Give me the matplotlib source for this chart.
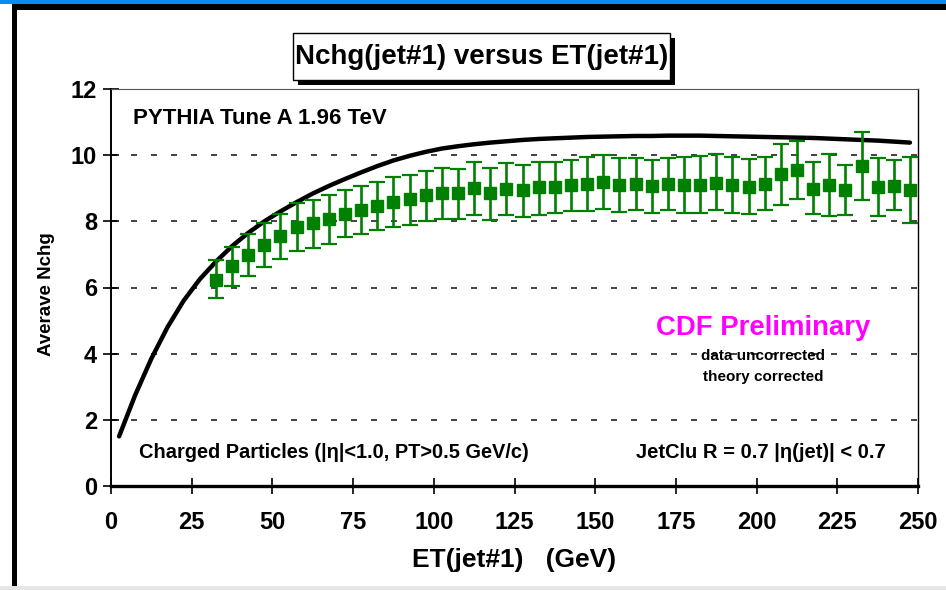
import matplotlib
matplotlib.use("Agg")
import matplotlib.pyplot as plt
from matplotlib.patches import Rectangle
import numpy as np

# ---------------- data ----------------
et = [32.5, 37.5, 42.5, 47.5, 52.5, 57.5, 62.5, 67.5, 72.5, 77.5, 82.5, 87.5,
      92.5, 97.5, 102.5, 107.5, 112.5, 117.5, 122.5, 127.5, 132.5, 137.5, 142.5,
      147.5, 152.5, 157.5, 162.5, 167.5, 172.5, 177.5, 182.5, 187.5, 192.5,
      197.5, 202.5, 207.5, 212.5, 217.5, 222.5, 227.5, 232.5, 237.5, 242.5, 247.5]
nchg = [6.23, 6.66, 6.99, 7.29, 7.55, 7.83, 7.95, 8.06, 8.22, 8.35, 8.45, 8.58,
        8.66, 8.80, 8.87, 8.85, 9.00, 8.86, 8.99, 8.94, 9.03, 9.03, 9.10,
        9.14, 9.20, 9.10, 9.12, 9.07, 9.12, 9.09, 9.10, 9.17, 9.09,
        9.05, 9.14, 9.44, 9.55, 8.98, 9.10, 8.95, 9.68, 9.05, 9.07, 8.94]
nchg_low = [5.68, 6.06, 6.35, 6.62, 6.86, 7.09, 7.19, 7.31, 7.53, 7.62, 7.73, 7.82,
            7.90, 8.00, 8.06, 8.06, 8.18, 8.04, 8.20, 8.14, 8.20, 8.25, 8.30,
            8.30, 8.37, 8.28, 8.35, 8.26, 8.33, 8.26, 8.26, 8.33, 8.26,
            8.23, 8.35, 8.50, 8.66, 8.23, 8.15, 8.20, 8.64, 8.17, 8.33, 7.95]
nchg_high = [6.82, 7.23, 7.62, 7.95, 8.22, 8.54, 8.65, 8.81, 8.94, 9.08, 9.20, 9.33,
             9.39, 9.52, 9.60, 9.58, 9.78, 9.62, 9.76, 9.70, 9.80, 9.80, 9.86,
             9.94, 10.00, 9.91, 9.90, 9.85, 9.90, 9.93, 9.98, 10.04, 9.94,
             9.88, 9.95, 10.33, 10.42, 9.80, 10.05, 9.70, 10.70, 9.91, 9.85, 9.95]

theory_et = [2.5, 7.5, 12.5, 17.5, 22.5, 27.5, 32.5, 37.5, 42.5, 47.5, 52.5, 57.5,
             62.5, 67.5, 72.5, 77.5, 82.5, 87.5, 92.5, 97.5, 102.5, 107.5, 112.5,
             117.5, 122.5, 127.5, 132.5, 137.5, 142.5, 147.5, 152.5, 157.5, 162.5,
             167.5, 172.5, 177.5, 182.5, 187.5, 192.5, 197.5, 202.5, 207.5, 212.5,
             217.5, 222.5, 227.5, 232.5, 237.5, 242.5, 247.5]
theory_nchg = [1.50, 2.75, 3.85, 4.80, 5.60, 6.25, 6.78, 7.25, 7.65, 8.00, 8.30, 8.58,
               8.84, 9.07, 9.28, 9.48, 9.67, 9.84, 9.98, 10.10, 10.20, 10.27, 10.33,
               10.38, 10.42, 10.46, 10.49, 10.51, 10.53, 10.55, 10.56, 10.57, 10.58,
               10.58, 10.59, 10.59, 10.59, 10.58, 10.57, 10.56, 10.55, 10.54, 10.53,
               10.52, 10.50, 10.48, 10.46, 10.44, 10.41, 10.38]

x_ticks = [0, 25, 50, 75, 100, 125, 150, 175, 200, 225, 250]
y_ticks = [0, 2, 4, 6, 8, 10, 12]

# ---------------- figure ----------------
W, H = 946, 590
fig = plt.figure(figsize=(W / 100, H / 100), dpi=100)
fig.patch.set_facecolor("white")

ARIAL = ["Liberation Sans", "DejaVu Sans"]

def fx(px):
    return px / W

def fy(py):
    return 1 - py / H

# frame decorations
fig.patches.append(Rectangle((0, fy(4)), 1, 4 / H, transform=fig.transFigure,
                             facecolor="#0a8cf0", edgecolor="none", zorder=0))
fig.patches.append(Rectangle((fx(12), fy(10)), 1, 6 / H, transform=fig.transFigure,
                             facecolor="black", edgecolor="none", zorder=0))
fig.patches.append(Rectangle((fx(12), 0), 5 / W, fy(4), transform=fig.transFigure,
                             facecolor="black", edgecolor="none", zorder=0))
fig.patches.append(Rectangle((0, 0), 1, 4 / H, transform=fig.transFigure,
                             facecolor="#e6e6e6", edgecolor="none", zorder=0))

AX_L, AX_R, AX_T, AX_B = 111, 918, 89, 486
ax = fig.add_axes([fx(AX_L), fy(AX_B), fx(AX_R) - fx(AX_L), fy(AX_T) - fy(AX_B)])
ax.set_xlim(0, 250)
ax.set_ylim(0, 12)

# grid
for yv in y_ticks[1:]:
    ax.axhline(yv, color="#222222", lw=1.2, linestyle=(0, (3.6, 8.4)), zorder=1)

# theory curve
ax.plot(theory_et, theory_nchg, color="black", lw=3.2, zorder=3,
        solid_capstyle="round", solid_joinstyle="round")

# data
yerr = [np.array(nchg) - np.array(nchg_low), np.array(nchg_high) - np.array(nchg)]
ax.errorbar(et, nchg, yerr=yerr, fmt="s", color="#008000", ms=8.5,
            mec="#008000", mfc="#008000", elinewidth=1.9, capsize=5.8,
            capthick=1.6, zorder=4)

# spines and ticks
ax.spines["left"].set_linewidth(1.4)
ax.spines["bottom"].set_linewidth(2.4)
ax.spines["right"].set_linewidth(1.0)
ax.spines["top"].set_linewidth(0.8)
ax.spines["top"].set_color("#555555")
ax.set_xticks(x_ticks)
ax.set_yticks(y_ticks)
ax.tick_params(axis="both", direction="inout", length=12, width=1.2,
               color="black")
ax.tick_params(axis="x", pad=12)
ax.tick_params(axis="y", pad=4)
for lab in ax.get_xticklabels() + ax.get_yticklabels():
    lab.set_fontfamily(ARIAL)
    lab.set_fontweight("bold")
    lab.set_fontsize(17)

ax.set_xlabel("ET(jet#1)   (GeV)", fontfamily=ARIAL, fontweight="bold",
              fontsize=19, labelpad=10)
ax.set_ylabel("Averave Nchg", fontfamily=ARIAL, fontweight="bold",
              fontsize=13.5)
ax.yaxis.set_label_coords((55 - AX_L) / (AX_R - AX_L),
                          (AX_B - 294) / (AX_B - AX_T))

# in-plot texts
fig.text(fx(133), fy(119), "PYTHIA Tune A 1.96 TeV", family=ARIAL,
         weight="bold", fontsize=16, ha="left", va="center")
fig.text(fx(139), fy(452), "Charged Particles (|η|<1.0, PT>0.5 GeV/c)",
         family=ARIAL, weight="bold", fontsize=14.4, ha="left", va="center")
fig.text(fx(886), fy(452), "JetClu R = 0.7 |η(jet)| < 0.7",
         family=ARIAL, weight="bold", fontsize=14.5, ha="right", va="center")
fig.text(fx(763), fy(328), "CDF Preliminary", family=ARIAL, weight="bold",
         fontsize=19.8, color="#ff00ff", ha="center", va="center")
fig.text(fx(763), fy(356), "data uncorrected", family=ARIAL, weight="bold",
         fontsize=11, ha="center", va="center")
fig.text(fx(763), fy(377), "theory corrected", family=ARIAL, weight="bold",
         fontsize=11, ha="center", va="center")

# title box with shadow
bx0, by0, bx1, by1 = 293, 33, 670, 80
sh = 5
fig.patches.append(Rectangle((fx(bx0 + sh), fy(by1 + sh)), (bx1 - bx0) / W,
                             (by1 - by0) / H, transform=fig.transFigure,
                             facecolor="black", edgecolor="none", zorder=5))
fig.patches.append(Rectangle((fx(bx0), fy(by1)), (bx1 - bx0) / W,
                             (by1 - by0) / H, transform=fig.transFigure,
                             facecolor="white", edgecolor="black", lw=1.0,
                             zorder=6))
fig.text(fx((bx0 + bx1) / 2), fy((by0 + by1) / 2 + 1),
         "Nchg(jet#1) versus ET(jet#1)", family=ARIAL, weight="bold",
         fontsize=20, ha="center", va="center", zorder=7)

fig.savefig("out.png", dpi=100)
